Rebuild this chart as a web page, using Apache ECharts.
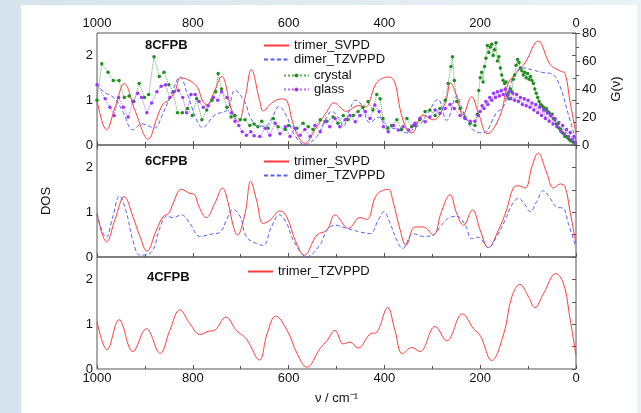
<!DOCTYPE html>
<html>
<head>
<meta charset="utf-8">
<script src="https://cdn.jsdelivr.net/npm/echarts@6/dist/echarts.min.js"></script>
<style>
  html, body { margin: 0; padding: 0; }
  #chart { width: 641px; height: 413px; }
</style>
</head>
<body>
<div id="chart"></div>
<script>
// x ticks (cm-1), axis reversed
var xTicks = [0, 200, 400, 600, 800, 1000]
var dosTicks = [0, 1, 2]
var gTicks = [0, 20, 40, 60, 80]

// 8CFPB panel, [wavenumber, DOS]
var trimerSvpd8 = [[1000,1.0],[980,0.34],[962,0.85],[943,1.37],[920,0.75],[893,0.13],[875,0.6],[862,0.92],[850,1.0],[837,1.2],[825,1.5],[805,1.43],[790,1.28],[779,0.97],[771,0.9],[755,1.2],[740,1.53],[719,0.79],[705,0.52],[690,1.1],[678,1.68],[660,0.97],[653,0.76],[635,0.94],[614,1.03],[603,0.98],[593,0.56],[580,0.19],[566,0.04],[545,0.34],[520,0.75],[505,0.94],[479,0.75],[455,0.88],[440,0.85],[416,1.39],[390,1.52],[378,1.39],[367,0.79],[353,0.34],[343,0.27],[319,0.67],[298,0.56],[273,0.94],[262,1.39],[249,1.09],[236,0.67],[218,1.08],[204,0.72],[185,0.25],[159,0.64],[141,1.39],[124,1.61],[106,1.84],[79,2.32],[54,1.8],[33,1.65],[23,1.6],[13,1.0],[0,0.25]]
var dimerTzvppd8 = [[1000,1.38],[987,1.2],[962,1.03],[945,0.72],[925,0.34],[906,0.47],[880,0.38],[865,0.64],[841,1.24],[827,1.52],[810,1.09],[792,0.56],[780,0.39],[754,0.67],[728,0.79],[712,1.22],[691,0.95],[680,0.62],[665,0.42],[649,0.42],[635,0.6],[620,0.86],[604,0.64],[590,0.27],[566,0.01],[541,0.19],[524,0.55],[510,0.75],[495,0.6],[486,0.42],[472,0.8],[460,1.0],[448,0.9],[430,0.5],[412,0.62],[395,0.42],[372,0.35],[353,0.27],[335,0.4],[326,0.45],[310,0.7],[288,1.02],[270,0.55],[249,1.09],[236,0.75],[215,0.34],[194,0.27],[166,0.72],[152,0.85],[138,1.31],[124,1.65],[110,1.72],[90,1.67],[70,1.62],[48,1.57],[33,1.3],[17,0.72],[0,0.1]]
// [wavenumber, G(v)]
var crystal = [[1000,32],[990,58],[977,52],[966,46],[954,46],[943,34],[933,35],[923,31],[912,44],[901,34],[892,36],[881,63],[870,49],[860,52],[850,43],[841,38],[832,23],[822,23],[811,26],[801,21],[792,33],[781,18],[771,25],[760,32],[752,38],[747,51],[740,40],[729,27],[720,20],[712,21],[701,18],[691,18],[681,14],[672,15],
  [664,13],[656,17],[643,12],[632,19],[622,13],[607,11],[600,14],[583,12],[570,15.5],[559,13],[549,11],[534,18],[520,17],[507,20],[497,15.5],[486,21],[476,18],[465,21],[455,24],[445,27],[434,31],[424,25],[416,36],[409,33],[403,19],[393,12],[385,14],[374,18],[364,11],[353,19],[343,13],[336,14],
  [326,18],[315,24],[305,25],[294,21],[284,26],[273,32],[267,44],[261,56],[258,63],[254,46],[249,31],[242,26],[232,20],[221,15.5],[211,14],[206,22],
  [203,39],[200,48],[197,52],[194,45],[191,56],[188,62],[185,71],[182,66],[179,70],[176,72],[173,64],[170,68],[167,73],[164,60],[161,63],[158,55],[155,50],[152,46],[149,44],[146,45],[143,36],[140,33],[137,40],[134,38],[131,47],[128,50],[125,57],[122,61],[119,59],[116,55],[113,53],[110,50],[107,52],[104,48],[101,51],[98,47],[95,49],[92,46],[89,44],[86,40],[83,37],[80,34],[77,31],[74,29],[71,28],[68,27],[65,25],[62,26],[59,24],[56,23],[53,21],[50,22],[47,19],[44,18],[41,15],[38,15],[35,12],[32,11],[29,9],[26,8],[23,6],[20,6],[17,5],[14,4],[11,3],[8,2.5],[5,2],[2,1]]
var glass = [[1000,43],[983,33],[973,27],[964,21],[955,34],[945,27],[935,20],[925,31],[915,37],[907,34],[896,23],[886,30],[875,38],[866,42],[857,43],[848,34],[839,38],[830,39],[821,34],[813,23],[804,36],[795,36],[787,31],[778,27],[768,28],[757,34],[748,32],[740,38],[729,34],[719,23],[712,17],[704,14],[697,9.5],[688,7],[679,9.5],[672,6.6],
  [660,6],[649,12],[639,7],[628,15.5],[618,8],[607,13],[597,6],[587,12],[576,7],[566,11],[555,6],[545,14],[534,9.5],[524,16.6],[514,13],[503,19],[493,13],[482,18],[472,21],[461,16.6],[451,21],[440,24],[430,19],[420,28.6],[411,24],[402,13],[392,9.5],[381,14],[371,10.7],[361,13],[350,10.7],[340,14],[336,15.5],
  [326,19],[315,16.6],[305,20],[294,25],[284,22.6],[273,26],[263,29],[254,26],[242,21],[232,19],[221,17],[211,17],[204,21],
  [200,24],[196,28],[192,26],[188,31],[184,29],[180,34],[176,32],[172,37],[168,34],[164,38],[160,35],[156,39],[152,36],[148,40],[144,35],[140,38],[136,33],[132,37],[128,32],[124,36],[120,31],[116,34],[112,29],[108,33],[104,28],[100,32],[96,27],[92,30],[88,25],[84,29],[80,23],[76,27],[72,21],[68,25],[64,19],[60,23],[56,17],[52,21],[48,15],[44,19],[40,13],[36,16],[32,10],[28,14],[24,8],[20,11],[16,6],[12,9],[8,4],[4,6],[2,2]]

// 6CFPB panel
var trimerSvpd6 = [[1000,0.97],[980,0.34],[962,0.85],[943,1.35],[925,0.9],[910,0.45],[896,0.13],[876,0.6],[862,0.9],[850,0.98],[841,1.2],[824,1.51],[806,1.42],[797,1.4],[787,1.12],[772,0.88],[754,1.2],[738,1.54],[727,1.24],[715,0.67],[707,0.49],[691,0.97],[679,1.69],[667,1.27],[653,0.75],[639,0.82],[618,1.03],[604,0.9],[586,0.37],[567,0.04],[541,0.49],[520,0.6],[503,0.94],[475,0.64],[451,0.88],[437,0.84],[416,1.39],[392,1.51],[382,1.24],[367,0.6],[355,0.26],[336,0.67],[319,0.67],[298,0.49],[281,1.01],[263,1.39],[249,0.97],[235,0.71],[216,1.05],[200,0.6],[183,0.21],[162,0.6],[145,1.05],[131,1.54],[120,1.59],[106,1.54],[92,2.02],[79,2.32],[61,1.87],[47,1.54],[33,1.63],[23,1.57],[13,1.05],[0,0.3]]
var dimerTzvppd6 = [[1000,0.97],[981,0.44],[967,0.9],[953,1.36],[939,1.01],[925,0.37],[910,0.04],[887,0.1],[868,0.67],[855,0.91],[841,0.88],[824,0.94],[806,0.75],[785,0.46],[757,0.52],[743,0.55],[730,0.82],[716,1.06],[701,0.9],[688,0.45],[667,0.3],[653,0.26],[636,0.67],[619,0.94],[604,0.75],[590,0.37],[562,0.01],[534,0.28],[520,0.6],[503,0.71],[479,0.64],[451,0.56],[430,0.52],[413,0.82],[401,1.01],[388,0.75],[374,0.37],[362,0.19],[340,0.52],[319,0.46],[298,0.49],[281,0.71],[267,0.86],[249,0.91],[231,0.71],[218,0.41],[204,0.44],[183,0.21],[166,0.45],[148,0.82],[134,1.16],[120,1.31],[106,1.16],[96,1.01],[82,1.24],[68,1.48],[54,1.31],[40,1.11],[27,1.09],[16,0.75],[0,0.22]]

// 4CFPB panel
var trimerTzvppd4 = [[1000,1.06],[979,0.43],[954,1.1],[925,0.39],[897,0.9],[868,0.35],[848,0.86],[827,1.32],[806,1.01],[785,0.77],[768,0.84],[755,0.86],[731,1.16],[709,0.86],[688,0.67],[661,0.2],[645,0.78],[627,1.18],[603,0.86],[582,0.34],[562,0.04],[534,0.46],[520,0.63],[503,0.86],[486,0.56],[472,0.6],[455,0.47],[430,0.78],[416,0.82],[393,1.37],[378,0.86],[362,0.34],[343,0.48],[326,0.39],[294,0.95],[270,0.63],[237,1.23],[214,0.9],[200,0.75],[176,0.19],[151,0.78],[134,1.61],[117,1.89],[99,1.61],[86,1.37],[68,1.68],[42,2.13],[26,1.9],[13,1.16],[0,0.3]]

var RED = '#ff3c3c'
var BLUE = '#5560ff'
var GREEN = '#1f8f1f'
var PURPLE = '#9b37ff'
var AXIS = '#555'
var FONT = 'Liberation Sans, Arial, sans-serif'

var chart = echarts.init(document.getElementById('chart'))

function xAxis(grid, pos, labels, name) {
  return {
    type: 'value', gridIndex: grid, position: pos, inverse: true,
    min: xTicks[0], max: xTicks[xTicks.length - 1], interval: 200,
    axisLine: { show: false },
    axisTick: { show: true, inside: true, length: 4, lineStyle: { color: AXIS } },
    minorTick: { show: true, splitNumber: 2, length: 3, lineStyle: { color: AXIS } },
    splitLine: { show: false },
    axisLabel: { show: labels, margin: 3, fontSize: 13, color: '#111', fontFamily: FONT,
      formatter: function (v) { return String(v) } },
    name: name || '', nameLocation: 'middle', nameGap: 23,
    nameTextStyle: { fontSize: 13, color: '#111', fontFamily: FONT }
  }
}

function dosAxis(grid, name) {
  return {
    type: 'value', gridIndex: grid, position: 'left', min: 0, max: 2.5, interval: 1,
    axisLine: { show: false },
    axisTick: { show: true, length: 4, lineStyle: { color: AXIS } },
    minorTick: { show: true, splitNumber: 2, length: 3, lineStyle: { color: AXIS } },
    splitLine: { show: false },
    axisLabel: { margin: 4, fontSize: 13, color: '#111', fontFamily: FONT,
      formatter: function (v) { return dosTicks.indexOf(v) >= 0 ? String(v) : '' } },
    name: name || '', nameLocation: 'middle', nameGap: 44,
    nameTextStyle: { fontSize: 13, color: '#111', fontFamily: FONT }
  }
}

function rightTicks(grid) {
  return {
    type: 'value', gridIndex: grid, position: 'right', min: 0, max: 2.5, interval: 0.5,
    axisLine: { show: false },
    axisTick: { show: true, inside: true, length: 4, lineStyle: { color: AXIS } },
    splitLine: { show: false },
    axisLabel: { show: false }
  }
}

function lineSeries(name, data, xi, yi, color, type) {
  return {
    name: name, type: 'line', xAxisIndex: xi, yAxisIndex: yi, data: data,
    smooth: 0.4, symbol: 'none', lineStyle: { color: color, width: 1, type: type },
    itemStyle: { color: color }
  }
}

function dotSeries(name, data, color) {
  return {
    name: name, type: 'line', xAxisIndex: 0, yAxisIndex: 1, data: data,
    symbol: 'circle', symbolSize: 3.5, showSymbol: true,
    lineStyle: { color: color, width: 1, type: 'dotted', opacity: 0.75 },
    itemStyle: { color: color }
  }
}

// legend entries for plain lines: hide the symbol, keep the line
function lineItem(name) {
  return { name: name, itemStyle: { color: 'rgba(0,0,0,0)', borderWidth: 0, opacity: 0 } }
}

function legend(names, left, top, h) {
  return {
    data: names, orient: 'vertical', left: left, top: top, padding: 0,
    itemWidth: 25, itemHeight: h || 8, itemGap: 1, selectedMode: false,
    textStyle: { fontSize: 13, color: '#111', fontFamily: FONT }
  }
}

function label(text, left, top) {
  return { text: text, left: left, top: top, padding: 0,
    textStyle: { fontSize: 13, fontWeight: 'bold', color: '#111', fontFamily: FONT } }
}

var gridBox = { show: true, left: 97, width: 479, height: 112, borderColor: AXIS, borderWidth: 1, backgroundColor: 'transparent' }

chart.setOption({
  animation: false,
  backgroundColor: new echarts.graphic.LinearGradient(0, 0, 1, 0, [
    { offset: 0, color: '#d5e4ec' }, { offset: 1, color: '#eaf2f6' }
  ]),
  graphic: [{ type: 'rect', z: -10, silent: true, shape: { x: 21, y: 5, width: 616, height: 420 }, style: { fill: '#fff' } }],
  title: [label('8CFPB', 145, 39), label('6CFPB', 145, 155), label('4CFPB', 147, 271)],
  legend: [
    legend([lineItem('trimer_SVPD'), lineItem('dimer_TZVPPD')], 263, 39),
    legend(['crystal', 'glass'], 283, 69, 5),
    legend([lineItem('trimer_SVPD'), lineItem('dimer_TZVPPD')], 263, 155),
    legend([lineItem('trimer_TZVPPD')], 247, 265)
  ],
  grid: [
    Object.assign({ top: 33 }, gridBox),
    Object.assign({ top: 145 }, gridBox),
    Object.assign({ top: 257 }, gridBox)
  ],
  xAxis: [
    xAxis(0, 'bottom', false),
    xAxis(0, 'top', true),
    xAxis(1, 'bottom', false),
    xAxis(2, 'bottom', true, 'ν / cm⁻¹')
  ],
  yAxis: [
    dosAxis(0),
    {
      type: 'value', gridIndex: 0, position: 'right', min: gTicks[0], max: gTicks[gTicks.length - 1], interval: 20,
      axisLine: { show: false },
      axisTick: { show: true, length: 4, lineStyle: { color: AXIS } },
      minorTick: { show: true, splitNumber: 2, length: 3, lineStyle: { color: AXIS } },
      splitLine: { show: false },
      axisLabel: { margin: 6, fontSize: 13, color: '#111', fontFamily: FONT },
      name: 'G(ν)', nameLocation: 'middle', nameGap: 34, nameRotate: 90,
      nameTextStyle: { fontSize: 13, color: '#111', fontFamily: FONT }
    },
    dosAxis(1, 'DOS'),
    rightTicks(1),
    dosAxis(2),
    rightTicks(2)
  ],
  series: [
    dotSeries('crystal', crystal, GREEN),
    dotSeries('glass', glass, PURPLE),
    lineSeries('trimer_SVPD', trimerSvpd8, 0, 0, RED, 'solid'),
    lineSeries('dimer_TZVPPD', dimerTzvppd8, 0, 0, BLUE, [4, 2.5]),
    lineSeries('trimer_SVPD', trimerSvpd6, 2, 2, RED, 'solid'),
    lineSeries('dimer_TZVPPD', dimerTzvppd6, 2, 2, BLUE, [4, 2.5]),
    lineSeries('trimer_TZVPPD', trimerTzvppd4, 3, 4, RED, 'solid')
  ]
})
</script>
</body>
</html>
